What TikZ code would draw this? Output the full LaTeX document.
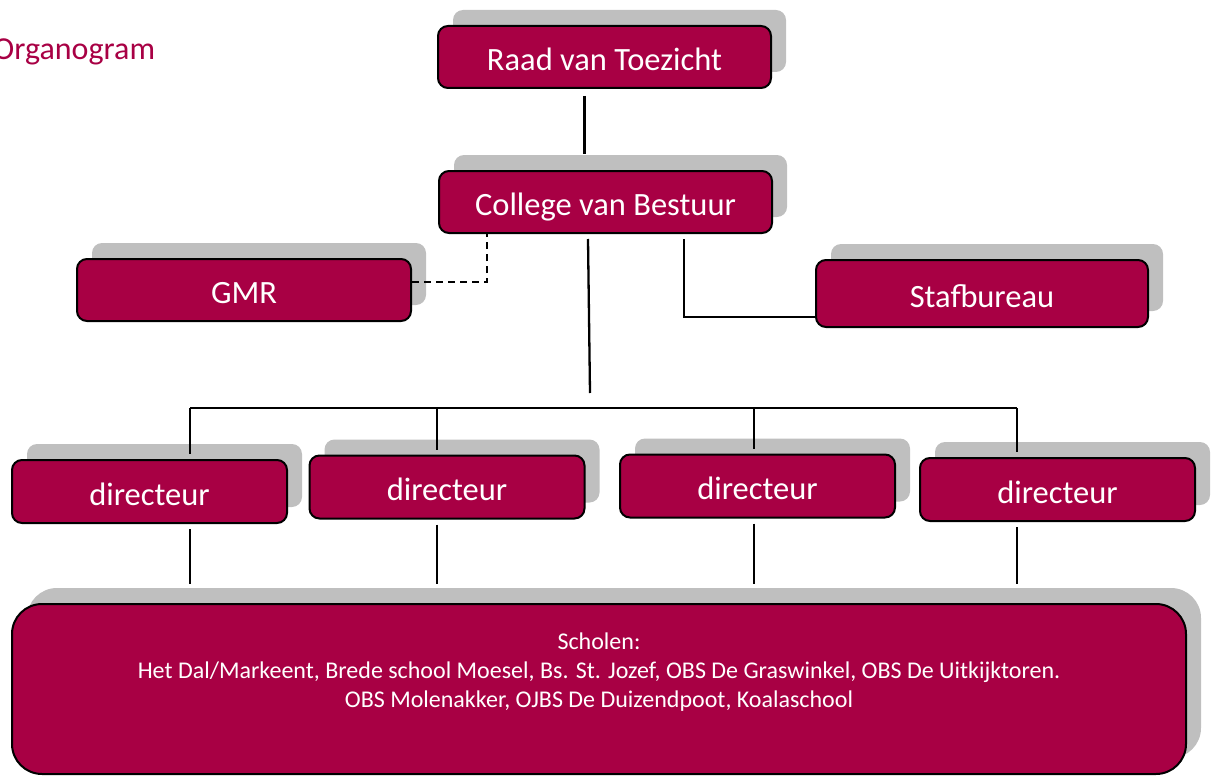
\documentclass[tikz,border=0pt]{standalone}
\usepackage{fontspec}
\setmainfont{Carlito}
\usetikzlibrary{positioning,shadows}

\definecolor{bordeaux}{RGB}{168,0,68}
\definecolor{schaduw}{RGB}{191,191,191}

\tikzset{
    blok/.style={draw=black, line width=2pt, fill=bordeaux, text=white,
        rounded corners=10pt, inner sep=0pt, text height=27pt, text depth=0pt,
        font=\fontsize{32.5}{39}\selectfont,
        general shadow={fill=schaduw, shadow xshift=15pt, shadow yshift=16pt}},
    hoofdblok/.style={blok, minimum width=333pt, minimum height=62pt},
    dirblok/.style={blok, minimum width=275pt, minimum height=63pt},
    lijn/.style={line width=2.3pt},
    stippel/.style={lijn, dash pattern=on 7pt off 5pt}
}

\begin{document}
\begin{tikzpicture}[x=1pt, y=-1pt]
    \useasboundingbox (0,0) rectangle (1211,776);

    % Titel
    \node[anchor=base west, inner sep=0pt, text=bordeaux,
        font=\fontsize{32}{38}\selectfont] (titel) at (-7,60) {Organogram};

    % Bestuur
    \node[hoofdblok] (rvt) at (604.5,57) {Raad van Toezicht};
    \node[hoofdblok] (cvb) at (605.5,202) {College van Bestuur};
    \node[blok, minimum width=334pt, minimum height=62pt] (gmr) at (244,290) {GMR};
    \node[blok, minimum width=332pt, minimum height=67pt] (staf) at (982,293.5) {Stafbureau};

    % Directeuren
    \foreach \naam/\x/\y in {dir1/149.5/491.5, dir2/447/487, dir3/757.5/486, dir4/1057.5/489.5}
        \node[dirblok] (\naam) at (\x,\y) {directeur};

    % Scholen
    \node[blok, minimum width=1174pt, minimum height=170pt, rounded corners=30pt] (scholen) at (599,689) {};
    \node[below=30pt of scholen.north, inner sep=0pt, align=center, text=white,
        font=\fontsize{24}{29}\selectfont] (namen)
        {Scholen:\\
         Het Dal/Markeent, Brede school Moesel, Bs. St. Jozef, OBS De Graswinkel, OBS De Uitkijktoren.\\
         OBS Molenakker, OJBS De Duizendpoot, Koalaschool};

    % Verbindingen
    \coordinate (cvbboven) at ([yshift=16pt]cvb.north);
    \coordinate (busmidden) at (590,393);
    \coordinate (bus) at (0,408);
    \coordinate (onder) at ([yshift=19pt]scholen.north);

    \draw[lijn] ([xshift=-20pt,yshift=-7pt]rvt.south) -- ([xshift=-20pt]rvt.south |- cvbboven);
    \draw[stippel] ([yshift=8pt]gmr.east) -| ([xshift=-118.5pt]cvb.south);
    \draw[lijn] ([xshift=78.5pt,yshift=-5pt]cvb.south) |- ([yshift=-23.5pt]staf.west);
    \draw[lijn] ([xshift=-17.5pt,yshift=-5pt]cvb.south) -- (busmidden);

    \draw[lijn] ([xshift=40.5pt]dir1.north |- bus) -- ([xshift=-40.5pt]dir4.north |- bus);
    \foreach \naam/\dx in {dir1/40.5, dir2/-10, dir3/-3.5, dir4/-40.5} {
        \draw[lijn] ([xshift=\dx]\naam.north |- bus) -- ([xshift=\dx,yshift=5pt]\naam.north);
        \draw[lijn] ([xshift=\dx,yshift=-5pt]\naam.south) -- ([xshift=\dx]\naam.south |- onder);
    }
\end{tikzpicture}
\end{document}
